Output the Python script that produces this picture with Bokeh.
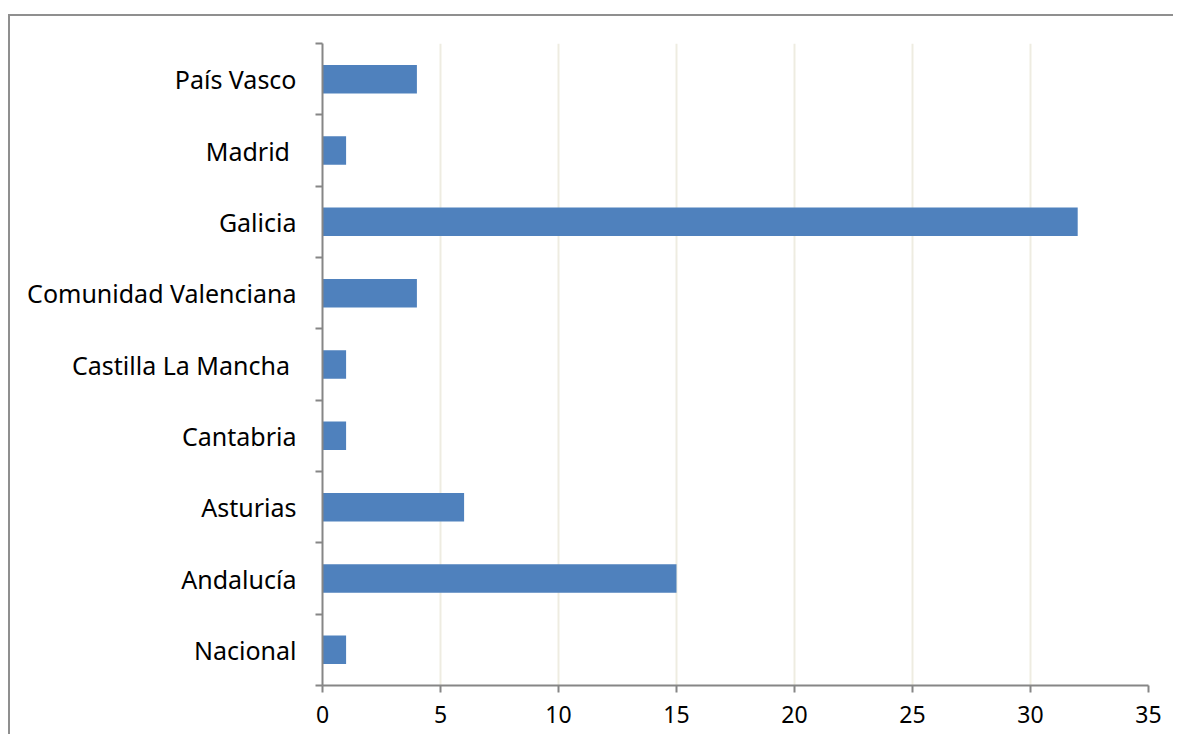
from bokeh.plotting import figure
from bokeh.models import Range1d, FixedTicker, ColumnDataSource
from bokeh.embed import file_html
from bokeh.resources import INLINE

categories = ["Nacional", "Andalucía", "Asturias", "Cantabria", "Castilla La Mancha ",
              "Comunidad Valenciana", "Galicia", "Madrid ", "País Vasco"]
values = [1, 15, 6, 1, 1, 4, 32, 1, 4]
x_ticks = [0, 5, 10, 15, 20, 25, 30, 35]

pos = [i + 0.5 for i in range(len(categories))]
src = ColumnDataSource(dict(y=pos, v=values, name=categories))

p = figure(width=1165, height=720, output_backend="svg", toolbar_location=None,
           x_range=Range1d(0, 35), y_range=Range1d(0, len(categories)),
           min_border_left=312, min_border_right=27, min_border_top=27, min_border_bottom=51)
p.margin = (14, 0, 0, 8)
p.styles = {"border-top": "2px solid #8f8f8f", "border-left": "2px solid #8f8f8f",
            "border-right": "none", "border-bottom": "none"}
p.outline_line_color = None

p.hbar(y="y", left=0, right="v", height=0.4, source=src, fill_color="#4F81BD", line_color=None)

gray = "#868686"
xa = p.xaxis[0]
xa.ticker = FixedTicker(ticks=x_ticks)
xa.axis_line_color = gray
xa.axis_line_width = 2
xa.major_tick_line_color = gray
xa.major_tick_line_width = 2
xa.major_tick_in = 0
xa.major_tick_out = 7
xa.minor_tick_line_color = None
xa.major_label_text_font = "Noto Sans"
xa.major_label_text_font_size = "23px"
xa.major_label_text_color = "#000000"
xa.major_label_standoff = 13

ya = p.yaxis[0]
ya.ticker = FixedTicker(ticks=pos, minor_ticks=list(range(len(categories) + 1)))
ya.major_label_overrides = {pp: c for pp, c in zip(pos, categories)}
ya.axis_line_color = gray
ya.axis_line_width = 2
ya.major_tick_line_color = None
ya.major_tick_in = 0
ya.major_tick_out = 0
ya.minor_tick_line_color = gray
ya.minor_tick_line_width = 2
ya.minor_tick_in = 0
ya.minor_tick_out = 7
ya.major_label_text_font = "Noto Sans"
ya.major_label_text_font_size = "25px"
ya.major_label_text_color = "#000000"
ya.major_label_standoff = 19

p.xgrid.ticker = FixedTicker(ticks=x_ticks[1:])
p.xgrid.grid_line_color = "#EEECE1"
p.xgrid.grid_line_width = 2
p.ygrid.grid_line_color = None

open("out.html", "w").write(file_html(p, INLINE))
